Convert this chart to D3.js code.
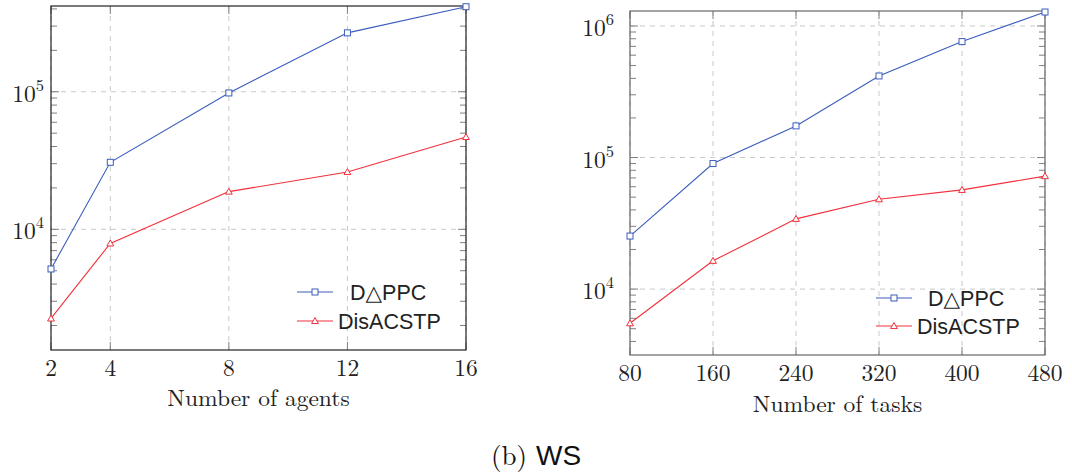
<!DOCTYPE html>
<html>
<head>
<meta charset="utf-8">
<script src="https://cdn.jsdelivr.net/npm/d3@7"></script>
<style>
  html, body { margin: 0; padding: 0; background: #fff; }
  svg { display: block; }
</style>
</head>
<body>
<svg id="fig" width="1072" height="475"></svg>
<script>
// Runtime (log scale) versus number of agents and number of tasks
const agents = [2, 4, 8, 12, 16];
const dppcByAgents = [5150, 30700, 98000, 268000, 415000];
const disByAgents = [2250, 7900, 18800, 26100, 46900];

const tasks = [80, 160, 240, 320, 400, 480];
const dppcByTasks = [25300, 90000, 174000, 417000, 761000, 1277000];
const disByTasks = [5500, 16400, 34200, 48200, 56800, 72200];

const seriesNames = ["D\u25B3PPC", "DisACSTP"];
const xTitles = ["Number of agents", "Number of tasks"];
const caption = ["(b)", "WS"];

const BLUE = "#3a5dbd";
const RED = "#f2303c";
const SERIF = "'Latin Modern Roman','CMU Serif','Liberation Serif','DejaVu Serif',serif";
const SANS = "'Liberation Sans','DejaVu Sans',Arial,sans-serif";
const FS = 23.5;

const svg = d3.select("#fig");

const panels = [
  {
    xs: agents, blue: dppcByAgents, red: disByAgents,
    xDomain: [2, 16], yDomain: [1327, 420000],
    left: 51, right: 466, top: 6, bottom: 350,
    frame: "#222", title: xTitles[0], majors: [1e4, 1e5],
    tickBase: 376, titleBase: 406, yLabelX: 44,
    legend: { x1: 297, x2: 333, tx: [350, 338], y: 292, dy: 29 }
  },
  {
    xs: tasks, blue: dppcByTasks, red: disByTasks,
    xDomain: [80, 480], yDomain: [3155, 1300000],
    left: 630, right: 1045, top: 11, bottom: 355,
    frame: "#666", title: xTitles[1], majors: [1e4, 1e5, 1e6],
    tickBase: 381, titleBase: 412, yLabelX: 614,
    legend: { x1: 876, x2: 912, tx: [928, 917], y: 298, dy: 28 }
  }
];

function square(g, x, y, c) {
  g.append("rect").attr("x", x - 3).attr("y", y - 3).attr("width", 6).attr("height", 6)
    .attr("fill", "#fff").attr("stroke", c).attr("stroke-width", 1);
}
function triangle(g, x, y, c) {
  const s = 3.4;
  g.append("path")
    .attr("d", `M${x},${y - s}L${x + s},${y + s * 0.75}L${x - s},${y + s * 0.75}Z`)
    .attr("fill", "#fff").attr("stroke", c).attr("stroke-width", 1);
}

panels.forEach(p => {
  const x = d3.scaleLinear().domain(p.xDomain).range([p.left, p.right]);
  const y = d3.scaleLog().domain(p.yDomain).range([p.bottom, p.top]);
  const g = svg.append("g");

  // dashed grid at major ticks
  p.xs.forEach(v => {
    g.append("line").attr("x1", x(v)).attr("x2", x(v)).attr("y1", p.top).attr("y2", p.bottom)
      .attr("stroke", "#c8c8c8").attr("stroke-width", 1).attr("stroke-dasharray", "5,5");
  });
  p.majors.forEach(v => {
    g.append("line").attr("x1", p.left).attr("x2", p.right).attr("y1", y(v)).attr("y2", y(v))
      .attr("stroke", "#c8c8c8").attr("stroke-width", 1).attr("stroke-dasharray", "5,5");
  });

  // x ticks, inside on bottom and top
  p.xs.forEach(v => {
    g.append("line").attr("x1", x(v)).attr("x2", x(v)).attr("y1", p.bottom).attr("y2", p.bottom - 8)
      .attr("stroke", "#808080");
    g.append("line").attr("x1", x(v)).attr("x2", x(v)).attr("y1", p.top).attr("y2", p.top + 8)
      .attr("stroke", "#808080");
  });

  // y ticks (major + log minor), inside on both sides
  const yt = y.ticks(20).filter(v => v >= p.yDomain[0] && v <= p.yDomain[1]);
  yt.forEach(v => {
    const isMajor = p.majors.includes(v);
    const len = isMajor ? 8 : 6;
    g.append("line").attr("x1", p.left).attr("x2", p.left + len).attr("y1", y(v)).attr("y2", y(v))
      .attr("stroke", "#808080");
    g.append("line").attr("x1", p.right).attr("x2", p.right - len).attr("y1", y(v)).attr("y2", y(v))
      .attr("stroke", "#808080");
  });

  // frame
  g.append("rect").attr("x", p.left).attr("y", p.top)
    .attr("width", p.right - p.left).attr("height", p.bottom - p.top)
    .attr("fill", "none").attr("stroke", p.frame).attr("stroke-width", 1.2);

  // x tick labels
  p.xs.forEach(v => {
    g.append("text").attr("x", x(v)).attr("y", p.tickBase).attr("text-anchor", "middle")
      .attr("font-family", SERIF).attr("font-size", FS).attr("fill", "#222").text(v);
  });

  // y tick labels 10^k
  p.majors.forEach(v => {
    const t = g.append("text").attr("x", p.yLabelX).attr("y", y(v) + 10).attr("text-anchor", "end")
      .attr("font-family", SERIF).attr("font-size", FS).attr("fill", "#222");
    t.append("tspan").text("10");
    t.append("tspan").attr("dy", -11).attr("font-size", 16.5).text(Math.round(Math.log10(v)));
  });

  // x axis title
  g.append("text").attr("x", (p.left + p.right) / 2).attr("y", p.titleBase).attr("text-anchor", "middle")
    .attr("font-family", SERIF).attr("font-size", FS).attr("fill", "#222").text(p.title);

  // series
  const line = d3.line().x(d => x(d[0])).y(d => y(d[1]));
  const blueData = p.xs.map((v, i) => [v, p.blue[i]]);
  const redData = p.xs.map((v, i) => [v, p.red[i]]);
  g.append("path").datum(blueData).attr("d", line).attr("fill", "none").attr("stroke", BLUE).attr("stroke-width", 1.1);
  g.append("path").datum(redData).attr("d", line).attr("fill", "none").attr("stroke", RED).attr("stroke-width", 1.1);
  blueData.forEach(d => square(g, x(d[0]), y(d[1]), BLUE));
  redData.forEach(d => triangle(g, x(d[0]), y(d[1]), RED));

  // legend
  const L = p.legend;
  [[BLUE, square], [RED, triangle]].forEach(([c, mk], i) => {
    const ly = L.y + i * L.dy;
    g.append("line").attr("x1", L.x1).attr("x2", L.x2).attr("y1", ly).attr("y2", ly)
      .attr("stroke", c).attr("stroke-width", 1.1);
    mk(g, (L.x1 + L.x2) / 2, ly, c);
    g.append("text").attr("x", L.tx[i]).attr("y", ly + 8).attr("font-family", SANS)
      .attr("font-size", 21.5).attr("fill", "#222").text(seriesNames[i]);
  });
});

// caption
const cap = svg.append("text").attr("x", 536).attr("y", 465).attr("text-anchor", "middle").attr("fill", "#111");
cap.append("tspan").attr("font-family", SERIF).attr("font-size", 27).text(caption[0] + " ");
cap.append("tspan").attr("font-family", SANS).attr("font-size", 28).text(caption[1]);
</script>
</body>
</html>
